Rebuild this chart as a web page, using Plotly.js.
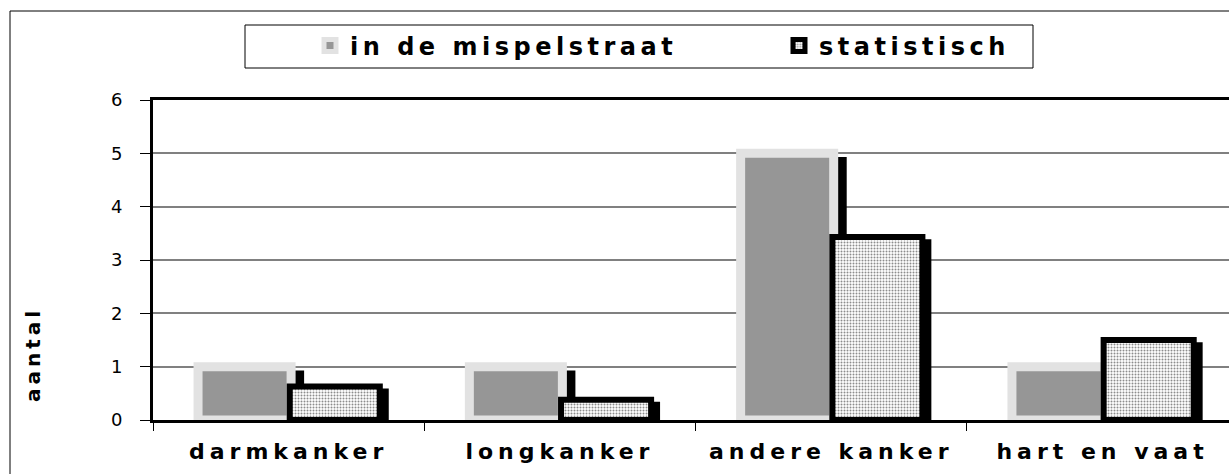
<!DOCTYPE html>
<html><head><meta charset="utf-8">
<script src="https://cdn.plot.ly/plotly-3.0.1.min.js"></script>
<style>
html,body{margin:0;padding:0;background:#fff}
#chart{width:1229px;height:474px}
#chart .xtick text{letter-spacing:5px}
#chart .legendtext{letter-spacing:4.5px}
#chart .annotation-text{letter-spacing:4px}
</style></head><body><div id="chart"></div>
<script>
const categories = ['darmkanker', 'longkanker', 'andere kanker', 'hart en vaat'];
const mispelstraat = [1, 1, 5, 1];
const statistisch = [0.63, 0.38, 3.43, 1.5];
const yTickVals = [0, 1, 2, 3, 4, 5, 6];
const seriesNames = ['in de mispelstraat', 'statistisch'];
const yTitle = 'aantal';

// layout geometry (pixels)
const W = 1229, H = 474, ML = 153, MT = 100, MB = 54;
const PW = W - ML, PH = H - MT - MB;
const px2x = p => (p - ML) / PW;
const px2y = p => (H - MB - p) / PH;
const font = 'DejaVu Sans, Liberation Sans, Arial, sans-serif';

const greyShadow = {
  type: 'bar', x: categories, y: mispelstraat.map(v => v - 0.07),
  offset: -0.286, width: 0.343, marker: {color: '#000000', line: {width: 0}},
  showlegend: false, hoverinfo: 'skip'
};
const grey = {
  type: 'bar', name: seriesNames[0], x: categories, y: mispelstraat,
  offset: -0.334, width: 0.343,
  marker: {color: '#969696', line: {color: '#e2e2e2', width: 9}}
};
const statShadow = {
  type: 'bar', x: categories, y: statistisch.map(v => v - 0.04),
  offset: 0.037, width: 0.332, marker: {color: '#000000', line: {width: 0}},
  showlegend: false, hoverinfo: 'skip'
};
const stat = {
  type: 'bar', name: seriesNames[1], x: categories, y: statistisch,
  offset: 0.004, width: 0.332,
  marker: {color: '#ffffff', line: {color: '#000000', width: 6},
           pattern: {shape: '.', bgcolor: '#ffffff', fgcolor: '#8c8c8c', size: 3, solidity: 0.35}}
};

const layout = {
  width: W, height: H,
  margin: {l: ML, r: 0, t: MT, b: MB, pad: 0, autoexpand: false},
  paper_bgcolor: '#ffffff', plot_bgcolor: '#ffffff',
  font: {family: font, color: '#000000', size: 17},
  barmode: 'overlay',
  showlegend: true,
  legend: {
    orientation: 'h', x: px2x(310), xanchor: 'left', y: px2y(46), yanchor: 'middle',
    borderwidth: 0, bgcolor: 'rgba(0,0,0,0)', entrywidth: 424, entrywidthmode: 'pixels',
    font: {family: font, size: 24, weight: 'bold', color: '#000000'},
    traceorder: 'normal'
  },
  xaxis: {
    type: 'category', categoryorder: 'array', categoryarray: categories,
    range: [-0.5, -0.5 + PW / 271.3],
    tickson: 'boundaries', ticks: 'outside', ticklen: 8, tickwidth: 1, tickcolor: '#000000',
    showgrid: false, showline: true, linecolor: '#000000', linewidth: 3, mirror: true,
    tickfont: {family: font, size: 22, weight: 'bold', color: '#000000'},
    ticklabelstandoff: 10, fixedrange: true
  },
  yaxis: {
    range: [0, 6], tickvals: yTickVals, ticktext: yTickVals.map(String),
    ticks: 'outside', ticklen: 10, tickwidth: 1, tickcolor: '#000000',
    showgrid: true, gridcolor: '#808080', gridwidth: 2, zeroline: false,
    showline: true, linecolor: '#000000', linewidth: 3,
    tickfont: {family: font, size: 18, color: '#000000'},
    ticklabelstandoff: 14, fixedrange: true
  },
  shapes: [
    {type: 'rect', xref: 'paper', yref: 'paper', x0: px2x(10), x1: px2x(1260), y0: px2y(11), y1: px2y(520),
     line: {color: '#000000', width: 1}, fillcolor: 'rgba(0,0,0,0)', layer: 'below'},
    {type: 'rect', xref: 'paper', yref: 'paper', x0: px2x(245), x1: px2x(1033), y0: px2y(25), y1: px2y(68),
     line: {color: '#000000', width: 1}, fillcolor: 'rgba(0,0,0,0)'}
  ],
  annotations: [
    {text: yTitle, xref: 'paper', yref: 'paper', x: px2x(33), y: px2y(355), textangle: -90,
     xanchor: 'center', yanchor: 'middle', showarrow: false,
     font: {family: font, size: 20, weight: 'bold', color: '#000000'}}
  ]
};

Plotly.newPlot('chart', [greyShadow, grey, statShadow, stat], layout, {staticPlot: true, displayModeBar: false});
</script></body></html>
